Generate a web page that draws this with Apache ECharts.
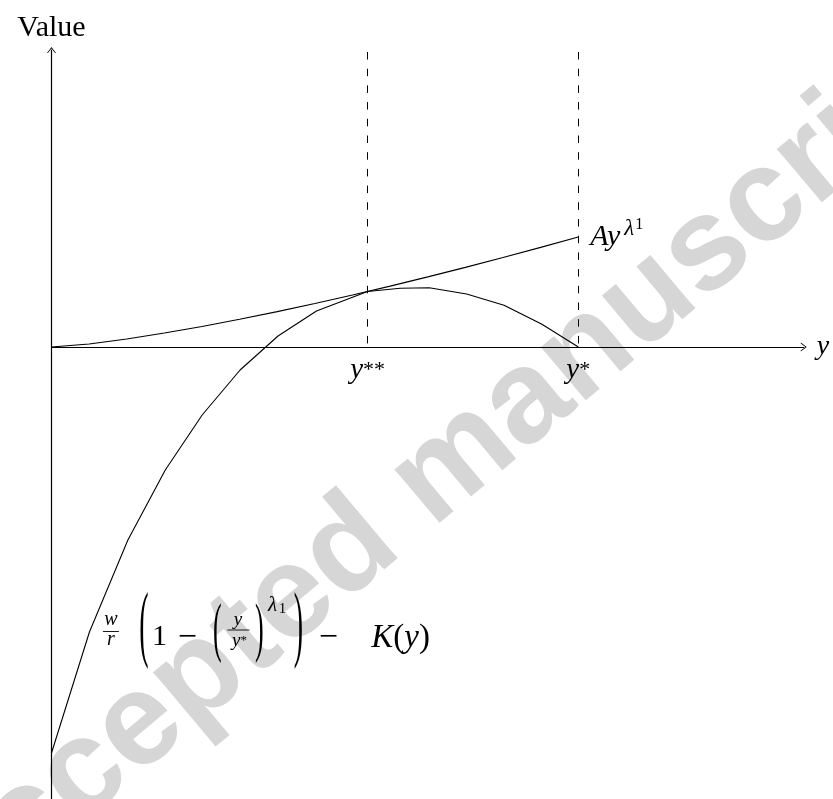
<!DOCTYPE html>
<html>
<head>
<meta charset="utf-8">
<title>Value</title>
<script src="https://cdn.jsdelivr.net/npm/echarts@6/dist/echarts.min.js"></script>
<style>
  html, body { margin: 0; padding: 0; background: #ffffff; }
  #chart { width: 833px; height: 799px; }
</style>
</head>
<body>
<div id="chart"></div>
<script>
// Threshold points on the horizontal axis
const yStarStar = 0.6;
const yStar = 1.0;

// Axis extents (data units)
const xAxisMax = 1.428;
const valueMax = 2.97;
const valueMin = -4.6;
const dashTop = 2.95;

// A·y^λ1 (convex, rising from the origin)
const ayX = [0, 0.0714, 0.1429, 0.2143, 0.2857, 0.3571, 0.4286, 0.5, 0.5714, 0.6429, 0.7143, 0.7857, 0.8571, 0.9286, 1.0];
const ayValues = [0, 0.03, 0.08, 0.14, 0.205, 0.277, 0.354, 0.435, 0.52, 0.609, 0.701, 0.796, 0.895, 0.996, 1.10];

// w/r (1 - (y/y*)^λ1) - K(y) (concave, ending at y*)
const netX = [0, 0.072, 0.145, 0.216, 0.286, 0.358, 0.430, 0.503, 0.600, 0.662, 0.717, 0.788, 0.859, 0.931, 1.0];
const netValues = [-4.06, -2.85, -1.93, -1.23, -0.68, -0.23, 0.11, 0.36, 0.555, 0.587, 0.593, 0.53, 0.417, 0.227, 0];

// Labels for the two thresholds
const tickLabels = ['{v|y}{s|**}', '{v|y}{s|*}'];

// Layout constants
const PX_PER_X = 526.8;
const PX_PER_V = 100;
const SERIF = '"Liberation Serif", "DejaVu Serif", serif';
const INK = '#000000';
const CHEVRON = 'path://M0,6.6 L5,0 L10,6.6 L9,6.6 L5,1.5 L1,6.6 Z';

const zip = (xs, ys) => xs.map((x, i) => [x, ys[i]]);

const chart = echarts.init(document.getElementById('chart'), null, { renderer: 'canvas' });

const option = {
  animation: false,
  backgroundColor: '#ffffff',
  grid: {
    left: 51.5,
    top: 50,
    width: xAxisMax * PX_PER_X,
    height: (valueMax - valueMin) * PX_PER_V,
    containLabel: false,
    outerBoundsMode: 'none'
  },
  xAxis: {
    type: 'value',
    min: 0,
    max: xAxisMax,
    name: 'y',
    nameLocation: 'end',
    nameGap: 13,
    nameTextStyle: { fontFamily: SERIF, fontStyle: 'italic', fontSize: 28, color: INK },
    axisLine: {
      onZero: true,
      symbol: ['none', CHEVRON],
      symbolSize: [9, 6],
      lineStyle: { color: INK, width: 1.2 }
    },
    axisTick: { show: false },
    axisLabel: { show: false },
    splitLine: { show: false }
  },
  yAxis: {
    type: 'value',
    min: valueMin,
    max: valueMax,
    name: 'Value',
    nameLocation: 'end',
    nameGap: 7,
    nameTextStyle: { fontFamily: SERIF, fontSize: 30, color: INK },
    axisLine: {
      onZero: true,
      symbol: ['none', CHEVRON],
      symbolSize: [9, 6],
      lineStyle: { color: INK, width: 1.2 }
    },
    axisTick: { show: false },
    axisLabel: { show: false },
    splitLine: { show: false }
  },
  series: [
    {
      name: 'Ay',
      type: 'line',
      data: zip(ayX, ayValues),
      symbol: 'none',
      smooth: false,
      z: 3,
      lineStyle: { color: INK, width: 1.1 },
      endLabel: {
        show: true,
        distance: 12,
        formatter: '{a|Ay}{l|λ}{n|1}',
        rich: {
          a: { fontFamily: SERIF, fontStyle: 'italic', fontSize: 30, color: INK, lineHeight: 40 },
          l: { fontFamily: SERIF, fontStyle: 'italic', fontSize: 23, color: INK, lineHeight: 26, verticalAlign: 'top', padding: [0, 0, 0, 4] },
          n: { fontFamily: SERIF, fontSize: 16, color: INK, lineHeight: 30, verticalAlign: 'top', padding: [0, 0, 0, 1] }
        }
      },
      markLine: {
        silent: true,
        symbol: ['none', 'none'],
        lineStyle: { color: INK, width: 1, type: [7.5, 9.2] },
        label: {
          show: true,
          position: 'end',
          distance: 8,
          formatter: (p) => tickLabels[p.dataIndex],
          rich: {
            v: { fontFamily: SERIF, fontStyle: 'italic', fontSize: 29, color: INK, lineHeight: 30 },
            s: { fontFamily: SERIF, fontSize: 22, color: INK, lineHeight: 30 }
          }
        },
        data: [
          [{ coord: [yStarStar, dashTop] }, { coord: [yStarStar, 0] }],
          [{ coord: [yStar, dashTop] }, { coord: [yStar, 0] }]
        ]
      }
    },
    {
      name: 'net',
      type: 'line',
      data: zip(netX, netValues),
      symbol: 'none',
      smooth: false,
      z: 3,
      lineStyle: { color: INK, width: 1.1 }
    }
  ]
};

chart.setOption(option);

// Typeset the curve's formula next to its second sample point
function formulaElements(ax, ay) {
  const glyph = (dx, dy, text, size, italic, extra) => Object.assign({
    type: 'text',
    x: ax + dx,
    y: ay + dy,
    silent: true,
    style: {
      text: text,
      fontFamily: SERIF,
      fontStyle: italic ? 'italic' : 'normal',
      fontSize: size,
      fill: INK,
      align: 'center',
      verticalAlign: 'middle'
    }
  }, extra || {});
  const bar = (x1, x2, dy) => ({
    type: 'line',
    silent: true,
    shape: { x1: ax + x1, y1: ay + dy, x2: ax + x2, y2: ay + dy },
    style: { stroke: INK, lineWidth: 0.9 }
  });
  return [
    glyph(21.5, -12.5, 'w', 20, true),
    bar(13.5, 29.5, -0.5),
    glyph(21.5, 8, 'r', 20, true),
    glyph(54.5, -3, '(', 28, false, { scaleY: 3.0 }),
    glyph(70, 5, '1', 30, false),
    glyph(98, 6, '\u2212', 34, false),
    glyph(128, 0, '(', 26, false, { scaleY: 2.5 }),
    glyph(148.5, -12, 'y', 19, true),
    bar(138, 160, -2),
    {
      type: 'text', x: ax + 150, y: ay + 9, silent: true,
      style: {
        text: '{i|y}{s|*}', align: 'center', verticalAlign: 'middle',
        rich: {
          i: { fontFamily: SERIF, fontStyle: 'italic', fontSize: 19, fill: INK, lineHeight: 20 },
          s: { fontFamily: SERIF, fontSize: 13, fill: INK, lineHeight: 20 }
        }
      }
    },
    glyph(170, 0, ')', 26, false, { scaleY: 2.5 }),
    glyph(183, -27, 'λ', 21, true),
    glyph(193, -23, '1', 15, false),
    glyph(209, -3, ')', 28, false, { scaleY: 3.0 }),
    glyph(239, 6, '\u2212', 34, false),
    {
      type: 'text', x: ax + 340.5, y: ay + 6, silent: true,
      style: {
        text: '{i|K}{u|(}{i|y}{u|)}', align: 'right', verticalAlign: 'middle',
        rich: {
          i: { fontFamily: SERIF, fontStyle: 'italic', fontSize: 33, fill: INK, lineHeight: 34 },
          u: { fontFamily: SERIF, fontSize: 33, fill: INK, lineHeight: 34 }
        }
      }
    }
  ];
}

const anchor = chart.convertToPixel({ gridIndex: 0 }, [netX[1], netValues[1]]);
chart.setOption({
  graphic: [
    {
      id: 'watermark',
      type: 'text',
      x: 440,
      y: 475,
      rotation: 40 * Math.PI / 180,
      z: 0,
      silent: true,
      style: {
        text: 'Accepted manuscript',
        fontFamily: '"Liberation Sans", Arial, sans-serif',
        fontWeight: 'bold',
        fontSize: 132,
        fill: '#d6d6d6',
        align: 'center',
        verticalAlign: 'middle'
      }
    },
    {
      id: 'formula',
      type: 'group',
      silent: true,
      z: 5,
      children: formulaElements(anchor[0], anchor[1])
    }
  ]
});
</script>
</body>
</html>
